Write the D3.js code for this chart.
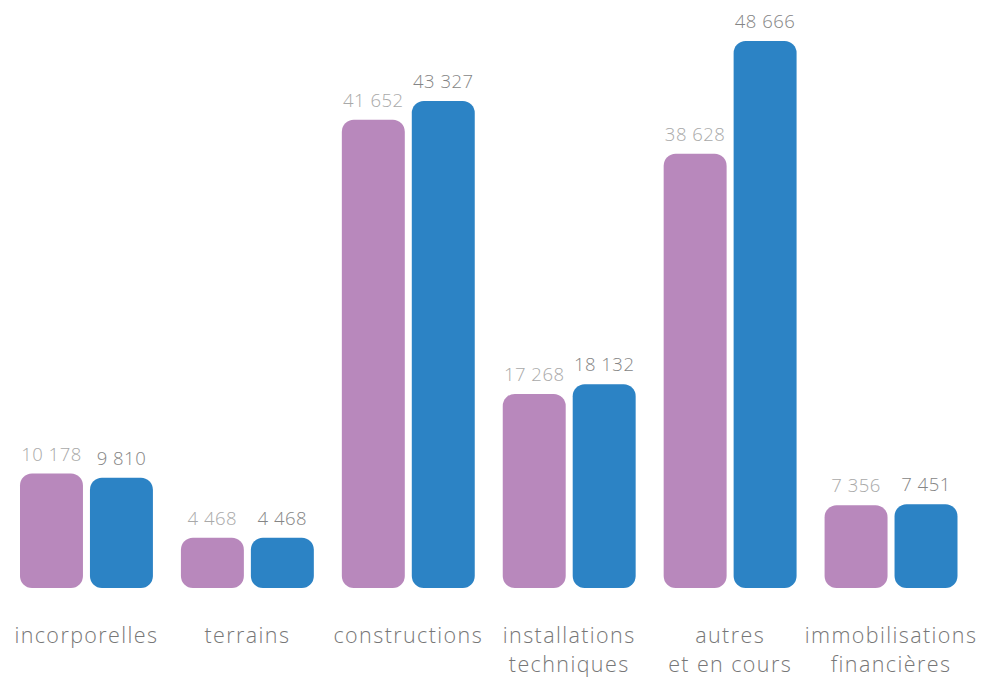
<!DOCTYPE html>
<html><head><meta charset="utf-8">
<script src="https://cdn.jsdelivr.net/npm/d3@7"></script>
<style>body{margin:0;background:#fff}</style>
</head><body>
<svg id="c" width="983" height="677"></svg>
<script>
const categories = [["incorporelles"],["terrains"],["constructions"],["installations","techniques"],["autres","et en cours"],["immobilisations","financières"]];
const series1 = [10178, 4468, 41652, 17268, 38628, 7356];
const series2 = [9810, 4468, 43327, 18132, 48666, 7451];
const fmt = v => d3.format(",")(v).replace(/,/g, " ");

const svg = d3.select("#c");
const baseline = 588;
const x = d3.scaleBand().domain(d3.range(categories.length)).range([6, 971.5]).paddingInner(0.174).paddingOuter(0.087);
const xs = d3.scaleBand().domain([0,1]).range([0, x.bandwidth()]).paddingInner(0.1);
const y = d3.scaleLinear().domain([0, 48666]).range([baseline, 41]);
const colors = ["#b888bc", "#2c83c5"];
const labelColors = ["#a9a9a9", "#858585"];
const font = "'Open Sans', Lato, sans-serif";

[series1, series2].forEach((s, si) => {
  const g = svg.append("g");
  g.selectAll("rect").data(s).join("rect")
    .attr("x", (d,i) => x(i) + xs(si))
    .attr("y", d => y(d))
    .attr("width", xs.bandwidth())
    .attr("height", d => baseline - y(d))
    .attr("rx", 12).attr("ry", 12)
    .attr("fill", colors[si]);
  g.selectAll("text").data(s).join("text")
    .attr("x", (d,i) => x(i) + xs(si) + xs.bandwidth()/2)
    .attr("y", d => y(d) - 13)
    .attr("text-anchor", "middle")
    .attr("font-family", font).attr("font-weight", 300)
    .attr("font-size", 18.5)
    .attr("letter-spacing", 0.5)
    .attr("fill", labelColors[si])
    .text(d => fmt(d));
});

const cl = svg.append("g").selectAll("text").data(categories).join("text")
  .attr("x", (d,i) => x(i) + x.bandwidth()/2)
  .attr("y", 643)
  .attr("text-anchor", "middle")
  .attr("font-family", font).attr("font-weight", 300)
  .attr("font-size", 21.5)
  .attr("letter-spacing", 1.4)
  .attr("fill", "#777");
cl.selectAll("tspan").data(d => d).join("tspan")
  .attr("x", function(){ return this.parentNode.getAttribute("x"); })
  .attr("dy", (d,i) => i === 0 ? 0 : 29)
  .text(d => d);
</script>
</body></html>
